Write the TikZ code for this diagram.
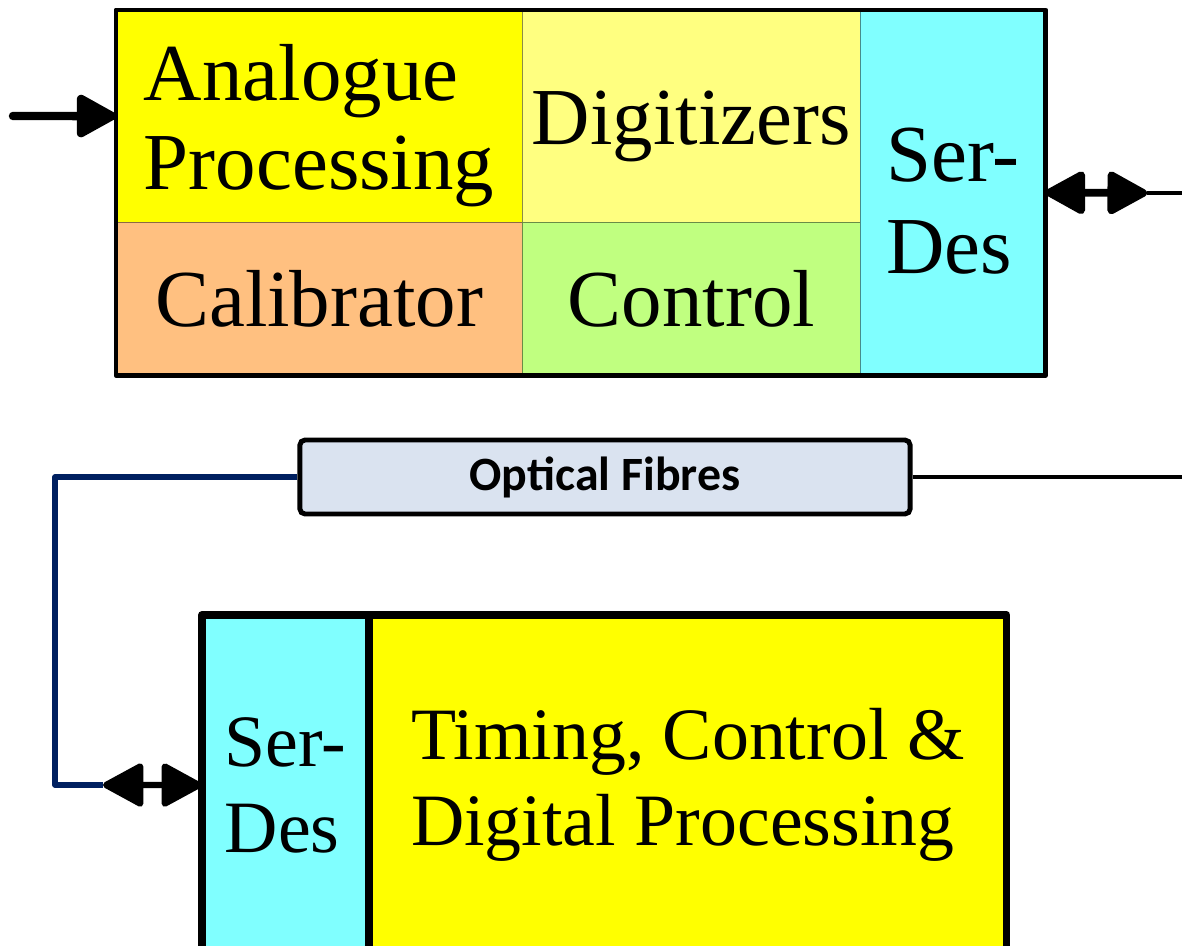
\documentclass[tikz,border=0pt]{standalone}
\usepackage{fontspec}
\setmainfont{Liberation Serif}
\newfontfamily\labelfont{Carlito}
\usetikzlibrary{arrows.meta, positioning}

\definecolor{anayellow}{HTML}{FFFF00}
\definecolor{digyellow}{HTML}{FFFF80}
\definecolor{calorange}{HTML}{FFC080}
\definecolor{ctrlgreen}{HTML}{C0FF80}
\definecolor{serdescyan}{HTML}{80FFFF}
\definecolor{fibrefill}{HTML}{DAE3F0}
\definecolor{fibrenavy}{HTML}{002060}

\newcommand{\padtop}[1]{\rule{0pt}{#1}}

\begin{document}
\begin{tikzpicture}[
        x=0.01cm, y=-0.01cm,
        >={Triangle[length=0.44cm 0, width=0.46cm 0, round]},
        node distance=0pt,
        cell/.style={draw=#1!55!black, line width=0.3pt, fill=#1,
            inner sep=0pt, outer sep=0pt, align=left,
            font=\fontsize{23}{25.5}\selectfont},
        bigcell/.style={cell=#1, font=\fontsize{21}{24.5}\selectfont},
        frame/.style={draw=black, line width=1.4pt, line join=round},
        fibrebox/.style={draw=black, line width=1.4pt, fill=fibrefill,
            rounded corners=1.5pt, minimum width=6.1cm, minimum height=0.74cm,
            font=\labelfont\bfseries\fontsize{13.6}{15}\selectfont},
        sig/.style={draw=black, line width=2.4pt, line cap=round},
        wire/.style={draw=black, line width=1.3pt},
        fibre/.style={draw=fibrenavy, line width=1.6pt, line join=round}]

    \useasboundingbox (0,0) rectangle (1182,946);

    % front-end board
    \node [cell=anayellow, anchor=north west, minimum width=4.06cm, minimum height=2.12cm]
        (ana) at (116,10) {\padtop{0.75cm}Analogue\\Processing};
    \node [cell=calorange, minimum width=4.06cm, minimum height=1.53cm]
        (calib) [below=of ana] {Calibrator};
    \node [cell=digyellow, minimum width=3.38cm, minimum height=2.12cm]
        (digit) [right=of ana] {\padtop{0.75cm}Digitizers};
    \node [cell=ctrlgreen, minimum width=3.38cm, minimum height=1.53cm]
        (ctrl) [below=of digit] {Control};
    \node [cell=serdescyan, anchor=north west, minimum width=1.85cm, minimum height=3.65cm,
        font=\fontsize{23}{26.2}\selectfont]
        (serA) at (digit.north east) {\padtop{0.7cm}Ser-\\Des};
    \draw [frame] (ana.north west) rectangle (serA.south east);

    % optical link
    \node [fibrebox] (opt) at (605,477) {Optical Fibres};

    % back-end board
    \node [bigcell=serdescyan, anchor=north west, minimum width=1.67cm, minimum height=3.4cm]
        (serB) at (202,615) {Ser-\\Des};
    \node [bigcell=anayellow, minimum width=6.37cm, minimum height=3.4cm]
        (tcdp) [right=of serB] {Timing, Control \&\\Digital Processing};
    \draw [frame, line width=2.2pt] (serB.north west) rectangle (tcdp.south east);
    \draw [line width=2.3pt] (serB.north east) -- (serB.south east);

    % connectors
    \coordinate (inA)   at (13,116);
    \coordinate (outA)  at (1147,193);
    \coordinate (rimA)  at (1190,193);
    \coordinate (rimC)  at (1190,477);
    \coordinate (turn)  at (55,477);
    \coordinate (linkB) at (103,785);

    \draw [sig, ->]  (inA) -- (ana.west);
    \draw [sig, <->, line width=2.2pt] (serA.east) -- (outA);
    \draw [wire] (outA) -- (rimA);
    \draw [wire] (opt.east) -- (rimC);
    \draw [fibre] (opt.west) -- (turn) |- (linkB);
    \draw [sig, <->, line width=1.8pt] (linkB) -- (serB.west);
\end{tikzpicture}
\end{document}
